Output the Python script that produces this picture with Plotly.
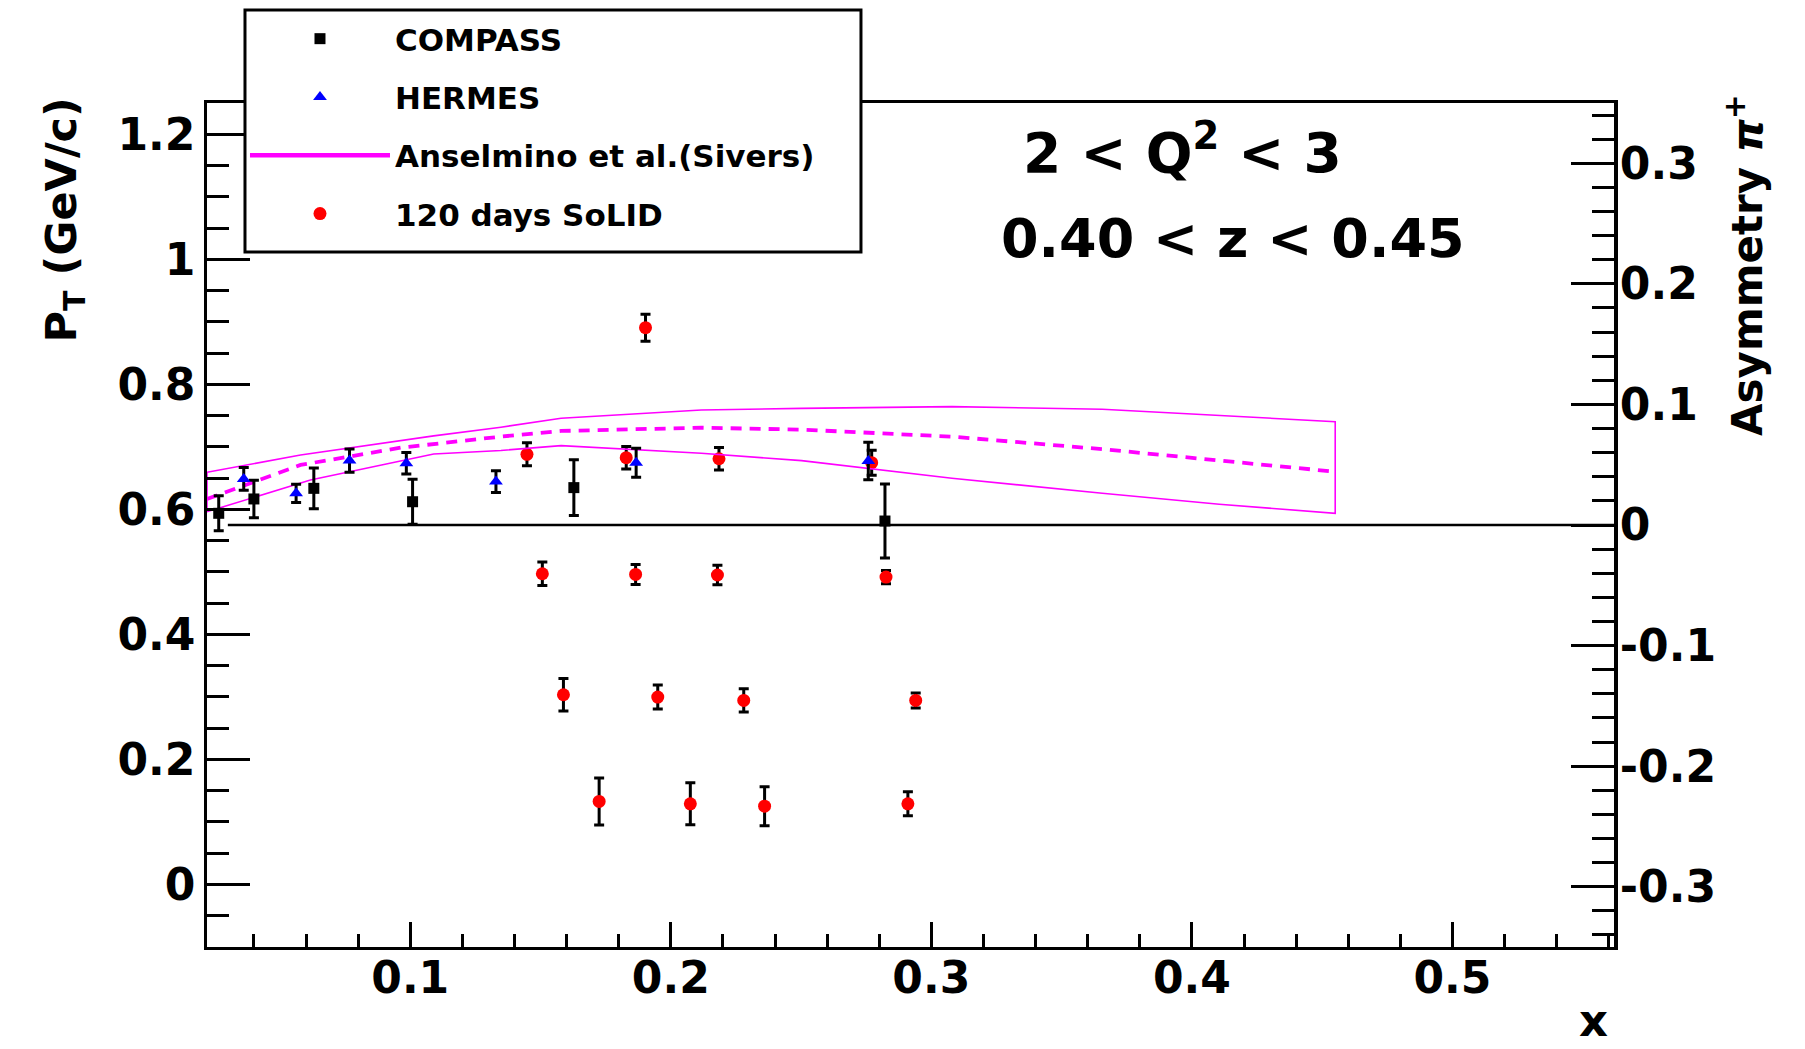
import plotly.graph_objects as go

# ---------------- data ----------------
# COMPASS (asymmetry, right axis)
compass_x = [0.0265, 0.0400, 0.0630, 0.1009, 0.1628, 0.2822]
compass_a = [0.0097, 0.0216, 0.0304, 0.0193, 0.0310, 0.0033]
compass_err = [0.0145, 0.0155, 0.0169, 0.0187, 0.0231, 0.0307]

# HERMES (asymmetry, right axis)
hermes_x = [0.0361, 0.0562, 0.0767, 0.0985, 0.1329, 0.1867, 0.2758]
hermes_a = [0.0382, 0.0263, 0.0534, 0.0512, 0.0360, 0.0517, 0.0531]
hermes_err = [0.0094, 0.0076, 0.0097, 0.0090, 0.0090, 0.0120, 0.0155]

# Anselmino et al. (Sivers) band (asymmetry, right axis)
band_upper_x = [0.022, 0.0579, 0.109, 0.1348, 0.1579, 0.2117, 0.2502, 0.3079, 0.3656, 0.4041, 0.455]
band_upper_a = [0.0437, 0.0581, 0.0739, 0.0811, 0.0885, 0.0954, 0.0967, 0.0982, 0.0960, 0.0913, 0.0857]
band_lower_x = [0.022, 0.0617, 0.109, 0.1348, 0.1579, 0.2117, 0.2502, 0.3079, 0.3656, 0.4105, 0.455]
band_lower_a = [0.0110, 0.0373, 0.0589, 0.0618, 0.0658, 0.0595, 0.0534, 0.0388, 0.0263, 0.0172, 0.0097]
central_x = [0.022, 0.0579, 0.0963, 0.1348, 0.1579, 0.2117, 0.2502, 0.3079, 0.3656, 0.455]
central_a = [0.0216, 0.0498, 0.0641, 0.0733, 0.0780, 0.0807, 0.0791, 0.0733, 0.0629, 0.0442]

# 120 days SoLID projection (P_T, left axis)
solid_x = [0.1903, 0.1448, 0.1829, 0.2185, 0.2771, 0.1507, 0.1865, 0.2179, 0.2826,
           0.1588, 0.1950, 0.2280, 0.2940, 0.1725, 0.2075, 0.2360, 0.2910]
solid_pt = [0.8907, 0.6880, 0.6827, 0.6810, 0.6747, 0.4970, 0.4960, 0.4950, 0.4917,
            0.3035, 0.2997, 0.2944, 0.2944, 0.1328, 0.1290, 0.1253, 0.1290]
solid_err = [0.0216, 0.0184, 0.0180, 0.0180, 0.0200, 0.0187, 0.0160, 0.0155, 0.0107,
             0.0260, 0.0192, 0.0187, 0.0120, 0.0376, 0.0336, 0.0312, 0.0192]

# axes
x_range = [0.022, 0.562]
pt_range = [-0.1, 1.25]
asym_range = [-0.35, 0.35]
asym_tickvals = [-0.3, -0.2, -0.1, 0.0, 0.1, 0.2, 0.3]
asym_ticktext = ["-0.3", "-0.2", "-0.1", "0", "0.1", "0.2", "0.3"]
zero_line_start = 0.03

FONT = "DejaVu Sans"
MAG = "#ff00ff"

fig = go.Figure()

# theory band outline (closed polygon)
poly_x = band_upper_x + band_lower_x[::-1] + band_upper_x[:1]
poly_a = band_upper_a + band_lower_a[::-1] + band_upper_a[:1]
fig.add_trace(go.Scatter(x=poly_x, y=poly_a, yaxis="y2", mode="lines",
                         line=dict(color=MAG, width=1.6), showlegend=False,
                         hoverinfo="skip"))
fig.add_trace(go.Scatter(x=central_x, y=central_a, yaxis="y2", mode="lines",
                         line=dict(color=MAG, width=3.8, dash="11px,8px"),
                         showlegend=False, hoverinfo="skip"))

err_style = dict(type="data", visible=True, color="black", thickness=3, width=5)

fig.add_trace(go.Scatter(x=compass_x, y=compass_a, yaxis="y2", mode="markers",
                         name="COMPASS", legendrank=1, legendgroup="g1",
                         marker=dict(symbol="square", size=11, color="black"),
                         error_y=dict(array=compass_err, **err_style)))
fig.add_trace(go.Scatter(x=hermes_x, y=hermes_a, yaxis="y2", mode="markers",
                         name="HERMES", legendrank=2, legendgroup="g2",
                         marker=dict(symbol="triangle-up", size=12, color="blue"),
                         error_y=dict(array=hermes_err, **err_style)))
fig.add_trace(go.Scatter(x=[None], y=[None], yaxis="y2", mode="lines",
                         name="Anselmino et al.(Sivers)", legendrank=3, legendgroup="g3",
                         line=dict(color=MAG, width=4.5)))
fig.add_trace(go.Scatter(x=solid_x, y=solid_pt, yaxis="y", mode="markers",
                         name="120 days SoLID", legendrank=4, legendgroup="g4",
                         marker=dict(symbol="circle", size=13, color="red"),
                         error_y=dict(array=solid_err, **err_style)))

tickfont = dict(family=FONT, size=44, color="black", weight="bold")

fig.update_layout(
    width=1805, height=1049,
    margin=dict(l=207, r=191, t=103, b=102, pad=0),
    paper_bgcolor="white", plot_bgcolor="white",
    font=dict(family=FONT, color="black"),
    xaxis=dict(range=x_range, showgrid=False, zeroline=False,
               showline=True, linecolor="black", linewidth=3, mirror=True,
               ticks="inside", ticklen=25, tickwidth=3, tickcolor="black",
               dtick=0.1, tick0=0, tickfont=tickfont, ticklabelstandoff=-10,
               minor=dict(ticks="inside", ticklen=13, tickwidth=3, tickcolor="black",
                          dtick=0.02, tick0=0)),
    yaxis=dict(range=pt_range, showgrid=False, zeroline=False,
               showline=True, linecolor="black", linewidth=2.5,
               ticks="inside", ticklen=43, tickwidth=3, tickcolor="black",
               dtick=0.2, tick0=0, tickfont=tickfont,
               minor=dict(ticks="inside", ticklen=22, tickwidth=3, tickcolor="black",
                          dtick=0.05, tick0=0)),
    yaxis2=dict(range=asym_range, overlaying="y", side="right", showgrid=False,
                zeroline=False, showline=True, linecolor="black", linewidth=4,
                ticks="inside", ticklen=43, tickwidth=3, tickcolor="black",
                tickmode="array", tickvals=asym_tickvals, ticktext=asym_ticktext,
                tickfont=tickfont, ticklabelstandoff=-7,
                minor=dict(ticks="inside", ticklen=22, tickwidth=3, tickcolor="black",
                           dtick=0.02, tick0=0)),
    legend=dict(x=0.027, y=1.1078, xanchor="left", yanchor="top",
                bgcolor="rgba(0,0,0,0)", borderwidth=0,
                font=dict(family=FONT, size=31, color="black", weight="bold"),
                itemwidth=140, tracegroupgap=15, traceorder="grouped"),
    shapes=[
        dict(type="line", xref="x", yref="y2", x0=zero_line_start, x1=x_range[1],
             y0=0, y1=0, line=dict(color="black", width=2.5)),
        # legend frame
        dict(type="rect", xref="paper", yref="paper", x0=0.0270, x1=0.4648,
             y0=0.8235, y1=1.1102, layer="above", fillcolor="white",
             line=dict(color="black", width=3)),
    ],
    annotations=[
        dict(text="2 &lt; Q<sup>2</sup> &lt; 3", xref="paper", yref="paper",
             x=0.6935, y=0.945, xanchor="center", yanchor="middle", showarrow=False,
             font=dict(family=FONT, size=55, color="black", weight="bold")),
        dict(text="0.40 &lt; z &lt; 0.45", xref="paper", yref="paper",
             x=0.729, y=0.840, xanchor="center", yanchor="middle", showarrow=False,
             font=dict(family=FONT, size=54, color="black", weight="bold")),
        dict(text="P<sub>T</sub> (GeV/c)", xref="paper", yref="paper",
             x=-0.1015, y=0.861, xanchor="center", yanchor="middle", textangle=-90,
             showarrow=False, font=dict(family=FONT, size=43, color="black", weight="bold")),
        dict(text="Asymmetry <i>π</i><sup>+</sup>", xref="paper", yref="paper",
             x=1.093, y=0.808, xanchor="center", yanchor="middle", textangle=-90,
             showarrow=False, font=dict(family=FONT, size=42, color="black", weight="bold")),
        dict(text="x", xref="paper", yref="paper",
             x=0.997, y=-0.1209, xanchor="right", yanchor="bottom",
             showarrow=False, font=dict(family=FONT, size=45, color="black", weight="bold")),
    ],
)

fig.write_html("out.html")
